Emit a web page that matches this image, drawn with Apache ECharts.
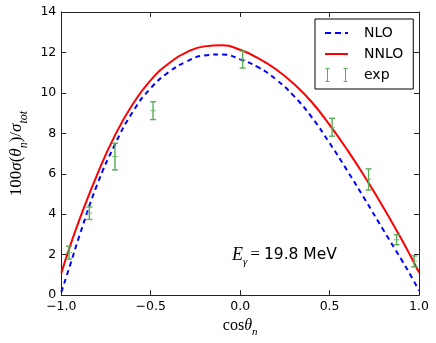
<!DOCTYPE html>
<html>
<head>
<meta charset="utf-8">
<script src="https://cdn.jsdelivr.net/npm/echarts@6/dist/echarts.min.js"></script>
<style>
html,body{margin:0;padding:0;background:#fff;}
#c{width:436px;height:343px;}
</style>
</head>
<body>
<div id="c"></div>
<script>
// x positions (cos theta_n) of the theory curves
const curveX = [-1.0, -0.95, -0.9, -0.8, -0.7, -0.6, -0.5, -0.4, -0.3, -0.2, -0.1, 0.0, 0.1, 0.2, 0.3, 0.4, 0.5, 0.6, 0.7, 0.8, 0.9, 0.95, 1.0];
const nloY  = [0.15, 1.5, 2.9, 5.45, 7.45, 9.07, 10.23, 11.02, 11.55, 11.85, 11.9, 11.66, 11.27, 10.67, 9.85, 8.8, 7.52, 6.14, 4.7, 3.23, 1.78, 1.03, 0.22];
const nnloY = [1.1, 2.45, 3.7, 5.95, 7.9, 9.45, 10.63, 11.45, 12.0, 12.3, 12.35, 12.13, 11.72, 11.17, 10.45, 9.55, 8.42, 7.17, 5.8, 4.35, 2.8, 1.98, 1.12];
// experimental points
const expX   = [-0.957, -0.843, -0.70, -0.487, 0.014, 0.514, 0.718, 0.875, 0.973];
const expY   = [2.1, 4.05, 6.85, 9.12, 11.65, 8.3, 5.72, 2.74, 1.67];
const expErr = [0.32, 0.31, 0.66, 0.44, 0.42, 0.44, 0.52, 0.25, 0.27];
// axis ticks
const xTicks = {min: -1, max: 1, interval: 0.5};
const yTicks = {min: 0, max: 14, interval: 2};

const chart = echarts.init(document.getElementById('c'), null, {renderer: 'canvas'});
const sans = 'DejaVu Sans';
const serif = 'Liberation Serif';
const errColor = '#5aab5a';

function fmtX(v) {
  return (v < 0 ? '\u2212' : '') + Math.abs(v).toFixed(1);
}

const nloData = curveX.map((x, i) => [x, nloY[i]]);
const nnloData = curveX.map((x, i) => [x, nnloY[i]]);
const expData = expX.map((x, i) => [x, expY[i], expErr[i]]);

const axisLine = {show: true, onZero: false, lineStyle: {color: '#222', width: 1}};
const tick = {show: true, inside: true, length: 5, lineStyle: {color: '#222', width: 1}};

function mathRich(size, subSize, lh) {
  return {
    u: {fontFamily: serif, fontSize: size, color: '#000', lineHeight: lh, verticalAlign: 'middle'},
    i: {fontFamily: serif, fontStyle: 'italic', fontSize: size, color: '#000', lineHeight: lh, verticalAlign: 'middle'},
    s: {fontFamily: serif, fontStyle: 'italic', fontSize: subSize, color: '#000', lineHeight: lh, verticalAlign: 'bottom', padding: [0, 0, -3, 0]}
  };
}

const option = {
  animation: false,
  backgroundColor: '#fff',
  grid: {left: 46, right: 17, top: 12, bottom: 43, containLabel: false},
  xAxis: [
    {
      type: 'value', position: 'bottom', min: xTicks.min, max: xTicks.max, interval: xTicks.interval,
      axisLine: axisLine, axisTick: tick, splitLine: {show: false},
      axisLabel: {formatter: fmtX, fontFamily: sans, fontSize: 12.5, color: '#000', margin: 5},
      name: '{u|cos}{i|θ}{s|n}',
      nameLocation: 'middle', nameGap: 19,
      nameTextStyle: {rich: mathRich(16, 11, 18)}
    },
    {
      type: 'value', position: 'top', min: xTicks.min, max: xTicks.max, interval: xTicks.interval,
      axisLine: axisLine, axisTick: tick, axisLabel: {show: false}, splitLine: {show: false}
    }
  ],
  yAxis: [
    {
      type: 'value', position: 'left', min: yTicks.min, max: yTicks.max, interval: yTicks.interval,
      axisLine: axisLine, axisTick: tick, splitLine: {show: false},
      axisLabel: {fontFamily: sans, fontSize: 12.5, color: '#000', margin: 5},
      name: '{u|100}{i|σ}{u|(}{i|θ}{s|n}{u|)/}{i|σ}{s|tot}',
      nameLocation: 'middle', nameGap: 26, nameRotate: 90,
      nameTextStyle: {rich: mathRich(17, 12, 20)}
    },
    {
      type: 'value', position: 'right', min: yTicks.min, max: yTicks.max, interval: yTicks.interval,
      axisLine: axisLine, axisTick: tick, axisLabel: {show: false}, splitLine: {show: false}
    }
  ],
  legend: {
    orient: 'vertical', left: 315, top: 19,
    padding: [7, 10, 7, 10], itemGap: 7, itemWidth: 23, itemHeight: 14,
    borderColor: '#000', borderWidth: 1, backgroundColor: '#fff',
    textStyle: {fontFamily: sans, fontSize: 14, color: '#000', padding: [0, 0, 0, 11]},
    data: [
      {name: 'NLO', icon: 'path://M0,0ZM0,6H6V8H0ZM10,6H16V8H10ZM20,6H23V8H20ZM23,14Z'},
      {name: 'NNLO', icon: 'path://M0,0ZM0,6H23V8H0ZM23,14Z'},
      {name: 'exp', icon: 'path://M0.5,0H4.5V1H3V13H4.5V14H0.5V13H2V1H0.5ZM18.5,0H22.5V1H21V13H22.5V14H18.5V13H20V1H18.5Z'}
    ]
  },
  graphic: [
    {
      type: 'text', left: 232, top: 246, z: 10,
      style: {
        text: '{i|E}{s|γ}{e|=}{n|19.8 MeV}',
        rich: {
          i: {fontFamily: serif, fontStyle: 'italic', fontSize: 18, fill: '#000', lineHeight: 20, verticalAlign: 'middle'},
          s: {fontFamily: serif, fontStyle: 'italic', fontSize: 11, fill: '#000', lineHeight: 20, verticalAlign: 'bottom', padding: [0, 0, -3, 0]},
          e: {fontFamily: serif, fontSize: 17, fill: '#000', lineHeight: 20, verticalAlign: 'middle', padding: [0, 4, 0, 3]},
          n: {fontFamily: sans, fontSize: 15.5, fill: '#000', lineHeight: 20, verticalAlign: 'middle'}
        }
      }
    }
  ],
  series: [
    {
      name: 'NLO', type: 'line', data: nloData, xAxisIndex: 0, yAxisIndex: 0,
      showSymbol: false, symbol: 'none', smooth: 0.5, z: 3,
      itemStyle: {color: '#0000ff'},
      lineStyle: {color: '#0000ff', width: 2, type: [5, 4]}
    },
    {
      name: 'NNLO', type: 'line', data: nnloData, xAxisIndex: 0, yAxisIndex: 0,
      showSymbol: false, symbol: 'none', smooth: 0.5, z: 4,
      itemStyle: {color: '#ff0000'},
      lineStyle: {color: '#ff0000', width: 2}
    },
    {
      name: 'exp', type: 'custom', data: expData, xAxisIndex: 0, yAxisIndex: 0, z: 5,
      itemStyle: {color: errColor},
      encode: {x: 0, y: 1},
      renderItem: function (params, api) {
        const x = api.value(0), y = api.value(1), e = api.value(2);
        const top = api.coord([x, y + e]);
        const bot = api.coord([x, y - e]);
        const c = api.coord([x, y]);
        const cw = 3;
        const st = {stroke: errColor, lineWidth: 1.4};
        return {
          type: 'group',
          children: [
            {type: 'line', shape: {x1: top[0], y1: top[1], x2: bot[0], y2: bot[1]}, style: st},
            {type: 'line', shape: {x1: top[0] - cw, y1: top[1], x2: top[0] + cw, y2: top[1]}, style: st},
            {type: 'line', shape: {x1: bot[0] - cw, y1: bot[1], x2: bot[0] + cw, y2: bot[1]}, style: st},
            {type: 'line', shape: {x1: c[0] - 3, y1: c[1], x2: c[0] + 3, y2: c[1]}, style: {stroke: errColor, lineWidth: 1.2, opacity: 0.6}}
          ]
        };
      }
    }
  ]
};
chart.setOption(option);
</script>
</body>
</html>
